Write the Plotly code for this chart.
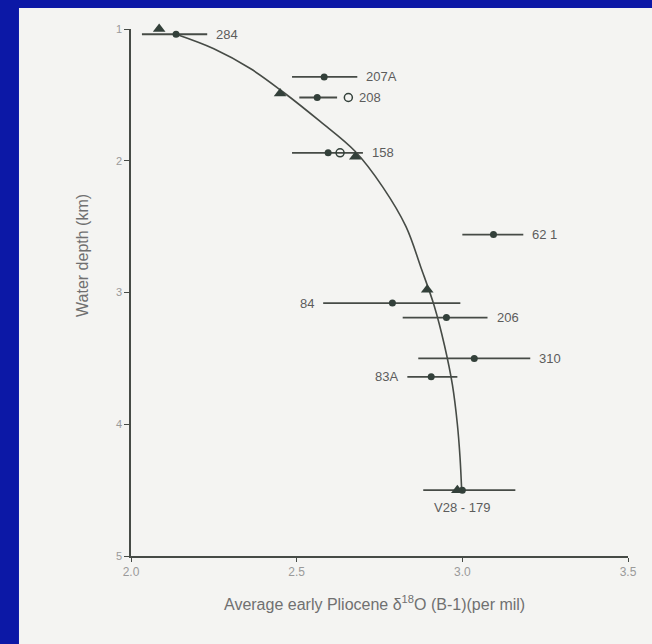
import plotly.graph_objects as go

# ---- data ----
cores = ["284", "207A", "208", "158", "62 1", "84", "206", "310", "83A", "V28 - 179"]
d18o = [2.136, 2.583, 2.562, 2.595, 3.094, 2.789, 2.952, 3.036, 2.906, 3.000]
depth = [1.04, 1.364, 1.52, 1.94, 2.56, 3.08, 3.19, 3.50, 3.64, 4.50]
d18o_low = [2.033, 2.486, 2.508, 2.486, 3.000, 2.580, 2.820, 2.867, 2.834, 2.882]
d18o_high = [2.230, 2.683, 2.622, 2.700, 3.184, 2.994, 3.076, 3.205, 2.985, 3.160]

open_x = [2.656, 2.631]
open_depth = [1.52, 1.94]

tri_x = [2.085, 2.450, 2.677, 2.894, 2.985]
tri_depth = [1.0, 1.49, 1.97, 2.98, 4.50]

curve_x = [2.136, 2.25, 2.36, 2.46, 2.57, 2.677, 2.76, 2.83, 2.875, 2.915, 2.946, 2.970, 2.985, 2.993, 2.998]
curve_depth = [1.04, 1.15, 1.30, 1.48, 1.70, 1.93, 2.20, 2.50, 2.81, 3.10, 3.40, 3.70, 4.00, 4.25, 4.50]

x_ticks = [2.0, 2.5, 3.0, 3.5]
x_tick_labels = ["2.0", "2.5", "3.0", "3.5"]
y_ticks = [1, 2, 3, 4, 5]
y_tick_labels = ["1", "2", "3", "4", "5"]

label_side = ["right", "right", "open", "right", "right", "left", "right", "right", "left", "below"]

# ---- styles ----
INK = "#464b46"
MARK = "#33403a"
TXT = "#5c5c5c"
FONT = "Liberation Sans, Arial, sans-serif"

fig = go.Figure()

# curve
fig.add_trace(go.Scatter(x=curve_x, y=curve_depth, mode="lines",
                         line=dict(color=INK, width=1.6, shape="spline", smoothing=1.0),
                         hoverinfo="skip", showlegend=False))

# points with horizontal error bars
fig.add_trace(go.Scatter(
    x=d18o, y=depth, mode="markers",
    marker=dict(color=MARK, size=7, symbol="circle"),
    error_x=dict(type="data", symmetric=False,
                 array=[h - x for h, x in zip(d18o_high, d18o)],
                 arrayminus=[x - l for x, l in zip(d18o, d18o_low)],
                 color=INK, thickness=1.8, width=0),
    cliponaxis=False, showlegend=False))

# open circles
fig.add_trace(go.Scatter(x=open_x, y=open_depth, mode="markers",
                         marker=dict(color=MARK, size=8, symbol="circle-open", line=dict(width=1.5)),
                         cliponaxis=False, showlegend=False))

# triangles
fig.add_trace(go.Scatter(x=tri_x, y=tri_depth, mode="markers",
                         marker=dict(color=MARK, size=11, symbol="triangle-up"),
                         cliponaxis=False, showlegend=False))

annotations = []
for name, x, y, lo, hi, side in zip(cores, d18o, depth, d18o_low, d18o_high, label_side):
    if side == "right":
        annotations.append(dict(x=hi, y=y, text=name, xanchor="left", yanchor="middle",
                                xshift=7, showarrow=False))
    elif side == "left":
        annotations.append(dict(x=lo, y=y, text=name, xanchor="right", yanchor="middle",
                                xshift=-7, showarrow=False))
    elif side == "open":
        annotations.append(dict(x=open_x[0], y=y, text=name, xanchor="left", yanchor="middle",
                                xshift=9, showarrow=False))
    else:
        annotations.append(dict(x=x, y=y, text=name, xanchor="center", yanchor="top",
                                yshift=-8, showarrow=False))
for a in annotations:
    a["font"] = dict(family=FONT, size=13, color=TXT)

# axis titles
annotations.append(dict(xref="paper", yref="paper", x=-0.12, y=0.571,
                        text="Water depth (km)", textangle=-90, showarrow=False,
                        font=dict(family=FONT, size=16, color="#707070")))
annotations.append(dict(xref="paper", yref="paper", x=0.49, y=-0.112,
                        text="Average early Pliocene δ<sup>18</sup>O (B-1)(per mil)",
                        showarrow=False, font=dict(family=FONT, size=16, color="#707070")))

fig.update_layout(
    width=652, height=644,
    margin=dict(l=131, r=24, t=29, b=88),
    paper_bgcolor="#0c18a6",
    plot_bgcolor="#f4f4f2",
    annotations=annotations,
    shapes=[dict(type="rect", xref="paper", yref="paper",
                 x0=-0.2254, x1=1.05, y0=-0.17, y1=1.0398,
                 fillcolor="#f4f4f2", line=dict(width=0), layer="below")],
    xaxis=dict(range=[2.0, 3.5], tickvals=x_ticks, ticktext=x_tick_labels,
               showgrid=False, zeroline=False, showline=True, linecolor=INK, linewidth=1.6,
               ticks="outside", ticklen=4, tickcolor=INK, tickwidth=1.2,
               tickfont=dict(family=FONT, size=12, color="#9a9a9a")),
    yaxis=dict(range=[5, 1], tickvals=y_ticks, ticktext=y_tick_labels,
               showgrid=False, zeroline=False, showline=True, linecolor=INK, linewidth=1.6,
               ticks="outside", ticklen=5, tickcolor=INK, tickwidth=1.2,
               tickfont=dict(family=FONT, size=11, color="#9a9a9a")),
    showlegend=False,
)

fig.write_html("out.html", config={"displayModeBar": False},
               post_script="document.body.style.margin='0px';document.body.style.background='#0c18a6';")
